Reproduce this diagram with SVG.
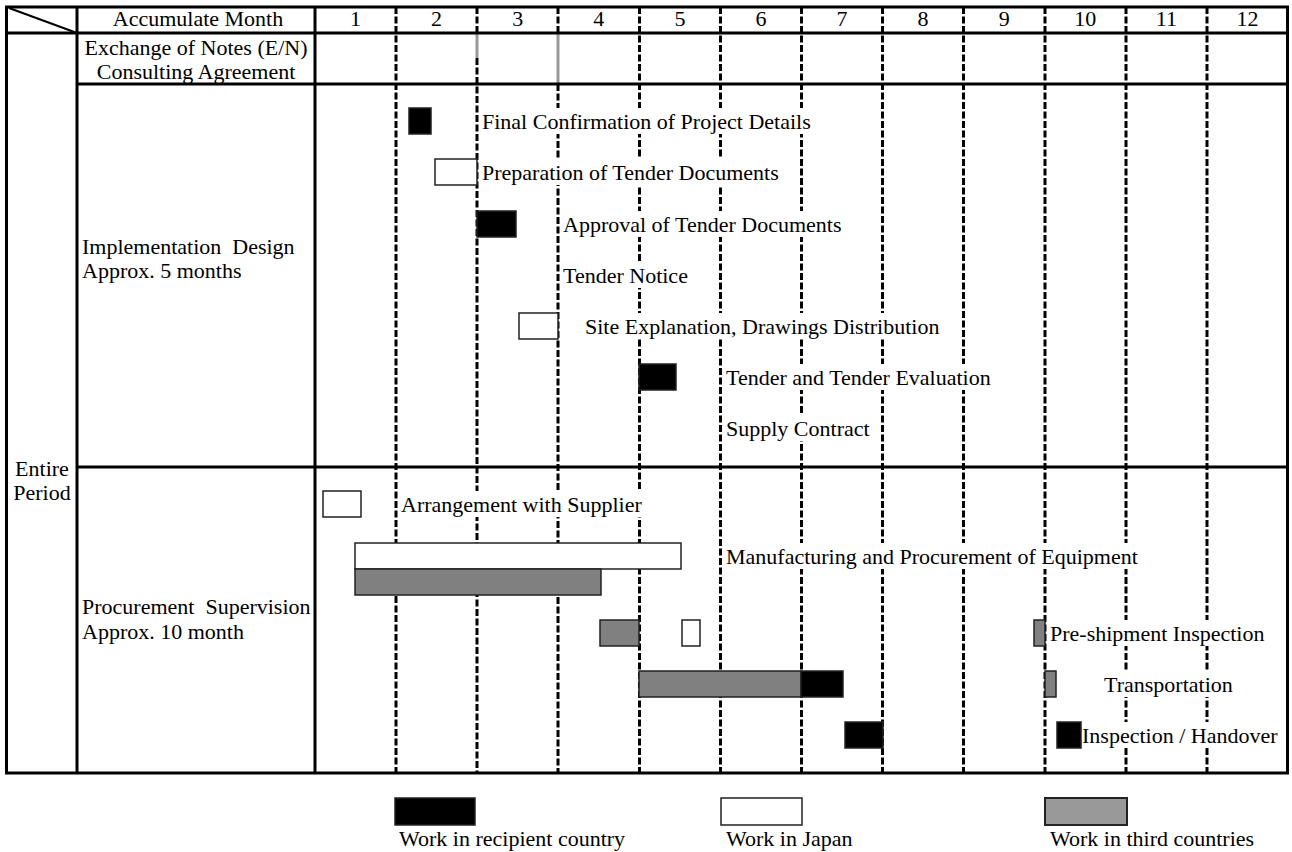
<svg xmlns="http://www.w3.org/2000/svg" width="1292" height="852" viewBox="0 0 1292 852">
<style>
text{font-family:"Liberation Serif","Times New Roman",serif;font-size:22px;fill:#000}
.mid{text-anchor:middle}
.thick{stroke:#000;stroke-width:3;fill:none}
.dash{stroke:#000;stroke-width:3;stroke-dasharray:7 2.5;fill:none}
.gline{stroke:#999;stroke-width:3;fill:none}
.bk{fill:#000;stroke:#222;stroke-width:1.5}
.wh{fill:#fff;stroke:#222;stroke-width:1.5}
.gr{fill:#808080;stroke:#222;stroke-width:1.5}
.lg{fill:#999;stroke:#222;stroke-width:2}
.bg{fill:#fff}
</style>
<rect width="1292" height="852" fill="#fff"/>
<g id="grid">
<path class="dash" d="M396,7V773M477,7V33M477,58V773M558,7V33M558,84V773M639.5,7V773M720.5,7V773M801.5,7V773M882.5,7V773M963.5,7V773M1045,7V773M1126,7V773M1207,7V773"/>
<path class="gline" d="M477,33V58M558,33V84"/>
</g>
<g id="labels-bg">
<rect class="bg" x="480" y="108" width="334" height="26"/>
<rect class="bg" x="480" y="159" width="304" height="26"/>
<rect class="bg" x="561" y="211" width="286" height="26"/>
<rect class="bg" x="561" y="262" width="131" height="26"/>
<rect class="bg" x="583" y="313" width="360" height="26"/>
<rect class="bg" x="724" y="364" width="273" height="26"/>
<rect class="bg" x="724" y="415" width="146" height="26"/>
<rect class="bg" x="399" y="491" width="243" height="26"/>
<rect class="bg" x="724" y="543" width="416" height="26"/>
<rect class="bg" x="1048" y="620" width="218" height="26"/>
<rect class="bg" x="1102" y="671" width="133" height="26"/>
<rect class="bg" x="1082" y="722" width="199" height="26"/>
</g>
<g id="frame">
<rect class="thick" x="6.5" y="7" width="1281" height="766"/>
<path class="thick" d="M6.5,33H1288M77,84H1288M77,467H1288M77,7V773M315,7V773"/>
<line x1="9" y1="8" x2="77" y2="33" stroke="#000" stroke-width="2"/>
</g>
<g id="header">
<text class="mid" x="198" y="26">Accumulate Month</text>
<text class="mid" x="355.5" y="26">1</text>
<text class="mid" x="436.6" y="26">2</text>
<text class="mid" x="517.7" y="26">3</text>
<text class="mid" x="598.8" y="26">4</text>
<text class="mid" x="679.9" y="26">5</text>
<text class="mid" x="761" y="26">6</text>
<text class="mid" x="842" y="26">7</text>
<text class="mid" x="923.1" y="26">8</text>
<text class="mid" x="1004.2" y="26">9</text>
<text class="mid" x="1085.3" y="26">10</text>
<text class="mid" x="1166.4" y="26">11</text>
<text class="mid" x="1247.5" y="26">12</text>
</g>
<g id="row-en">
<text class="mid" x="196" y="55">Exchange of Notes (E/N)</text>
<text class="mid" x="196" y="79">Consulting Agreement</text>
</g>
<g id="entire-period">
<text class="mid" x="42" y="476">Entire</text>
<text class="mid" x="42" y="500">Period</text>
</g>
<g id="implementation-design">
<text x="82" y="254" xml:space="preserve">Implementation  Design</text>
<text x="82" y="278">Approx. 5 months</text>
</g>
<g id="procurement-supervision">
<text x="82" y="614" xml:space="preserve">Procurement  Supervision</text>
<text x="82" y="639">Approx. 10 month</text>
</g>
<g id="task-final-confirmation">
<rect class="bk" x="409" y="108" width="22" height="26"/>
<text x="482" y="129">Final Confirmation of Project Details</text>
</g>
<g id="task-preparation">
<rect class="wh" x="435" y="159" width="42" height="26"/>
<text x="482" y="180">Preparation of Tender Documents</text>
</g>
<g id="task-approval">
<rect class="bk" x="477" y="211" width="39" height="26"/>
<text x="563" y="232">Approval of Tender Documents</text>
</g>
<g id="task-tender-notice">
<text x="563" y="283">Tender Notice</text>
</g>
<g id="task-site-explanation">
<rect class="wh" x="519" y="313" width="39" height="26"/>
<text x="585" y="334">Site Explanation, Drawings Distribution</text>
</g>
<g id="task-tender-evaluation">
<rect class="bk" x="639" y="364" width="37" height="26"/>
<text x="726" y="385">Tender and Tender Evaluation</text>
</g>
<g id="task-supply-contract">
<text x="726" y="436">Supply Contract</text>
</g>
<g id="task-arrangement">
<rect class="wh" x="323" y="491" width="38" height="26"/>
<text x="401" y="512">Arrangement with Supplier</text>
</g>
<g id="task-manufacturing">
<rect class="wh" x="355" y="543" width="326" height="26"/>
<rect class="gr" x="355" y="569" width="246" height="26"/>
<text x="726" y="564">Manufacturing and Procurement of Equipment</text>
</g>
<g id="task-pre-shipment">
<rect class="gr" x="600" y="620" width="39" height="26"/>
<rect class="wh" x="682" y="620" width="18" height="26"/>
<rect class="gr" x="1034" y="620" width="11" height="26"/>
<text x="1050" y="641">Pre-shipment Inspection</text>
</g>
<g id="task-transportation">
<rect class="gr" x="639" y="671" width="162" height="26"/>
<rect class="bk" x="801" y="671" width="42" height="26"/>
<rect class="gr" x="1045" y="671" width="11" height="26"/>
<text x="1104" y="692">Transportation</text>
</g>
<g id="task-inspection-handover">
<rect class="bk" x="845" y="722" width="38" height="26"/>
<rect class="bk" x="1057" y="722" width="24" height="26"/>
<text x="1082" y="743">Inspection / Handover</text>
</g>
<g id="legend">
<rect class="bk" x="395" y="798" width="80" height="27"/>
<text x="399" y="846">Work in recipient country</text>
<rect class="wh" x="721" y="798" width="81" height="27"/>
<text x="726" y="846">Work in Japan</text>
<rect class="lg" x="1045" y="798" width="82" height="27"/>
<text x="1050" y="846">Work in third countries</text>
</g>
</svg>
